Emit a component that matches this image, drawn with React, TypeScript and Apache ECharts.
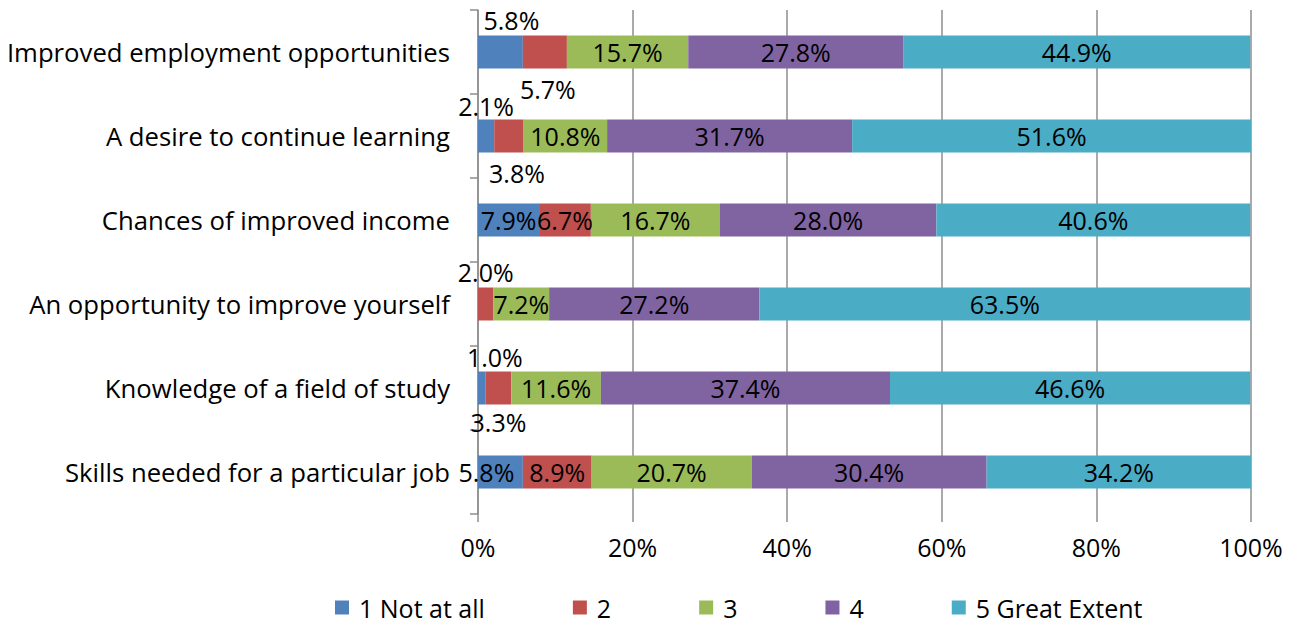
import React, { useEffect, useRef } from "react";
import * as echarts from "echarts";

const categories = [
  "Improved employment opportunities",
  "A desire to continue learning",
  "Chances of improved income",
  "An opportunity to improve yourself",
  "Knowledge of a field of study",
  "Skills needed for a particular job",
];

const seriesNames = ["1 Not at all", "2", "3", "4", "5 Great Extent"];

const notAtAll = [5.8, 2.1, 7.9, null, 1.0, 5.8];
const level2 = [5.7, 3.8, 6.7, 2.0, 3.3, 8.9];
const level3 = [15.7, 10.8, 16.7, 7.2, 11.6, 20.7];
const level4 = [27.8, 31.7, 28.0, 27.2, 37.4, 30.4];
const greatExtent = [44.9, 51.6, 40.6, 63.5, 46.6, 34.2];

const xTicks = [0, 20, 40, 60, 80, 100];

const colors = ["#4F81BD", "#C0504D", "#9BBB59", "#8064A2", "#4BACC6"];

// label offsets [seriesIndex-categoryIndex] -> [dx, dy] (layout only)
const labelOffsets: Record<string, [number, number]> = {
  "0-0": [11, -32],
  "1-0": [3, 37],
  "0-1": [0, -30],
  "1-1": [8, 37],
  "1-3": [0, -32],
  "0-4": [13, -31],
  "1-4": [0, 34],
  "0-5": [-14, 0],
};

const FONT = "'Open Sans', sans-serif";

export default function App() {
  const ref = useRef<HTMLDivElement>(null);
  useEffect(() => {
    if (!ref.current) return;
    const chart = echarts.init(ref.current, null, { renderer: "svg" });
    const all = [notAtAll, level2, level3, level4, greatExtent];
    const series = all.map((arr, si) => ({
      name: seriesNames[si],
      type: "bar",
      stack: "total",
      barWidth: 33,
      itemStyle: { color: colors[si] },
      label: {
        show: true,
        position: "inside",
        color: "#000",
        fontSize: 25,
        fontFamily: FONT,
        formatter: (p: any) => (p.value == null ? "" : Number(p.value).toFixed(1) + "%"),
      },
      data: arr.map((v, ci) => {
        const off = labelOffsets[`${si}-${ci}`];
        if (v == null) return { value: null };
        return off ? { value: v, label: { offset: off } } : { value: v };
      }),
    }));
    chart.setOption({
      animation: false,
      textStyle: { fontFamily: FONT },
      grid: { left: 478, right: 48, top: 10, bottom: 112, containLabel: false },
      legend: {
        data: seriesNames,
        left: 330,
        top: 590,
        icon: "rect",
        itemWidth: 14,
        itemHeight: 14,
        itemGap: 88,
        textStyle: { fontSize: 25, color: "#000", fontFamily: FONT, padding: [0, 0, 0, 5] },
      },
      xAxis: {
        type: "value",
        min: xTicks[0],
        max: xTicks[xTicks.length - 1],
        interval: 20,
        axisLine: { show: false },
        axisTick: { show: true, length: 8, lineStyle: { color: "#8e8e8e", width: 1.5 } },
        splitLine: { show: true, lineStyle: { color: "#8e8e8e", width: 1.5 } },
        axisLabel: {
          fontSize: 25,
          color: "#000",
          fontFamily: FONT,
          margin: 20,
          formatter: "{value}%",
        },
      },
      yAxis: {
        type: "category",
        inverse: true,
        data: categories,
        axisLine: { show: true, lineStyle: { color: "#8e8e8e", width: 1.5 } },
        axisTick: { show: true, length: 8, lineStyle: { color: "#8e8e8e", width: 1.5 } },
        axisLabel: { fontSize: 25.7, color: "#000", fontFamily: FONT, margin: 28 },
      },
      series,
    });
    return () => chart.dispose();
  }, []);
  return <div ref={ref} style={{ width: 1299, height: 626, position: "absolute", left: 0, top: 0 }} />;
}
